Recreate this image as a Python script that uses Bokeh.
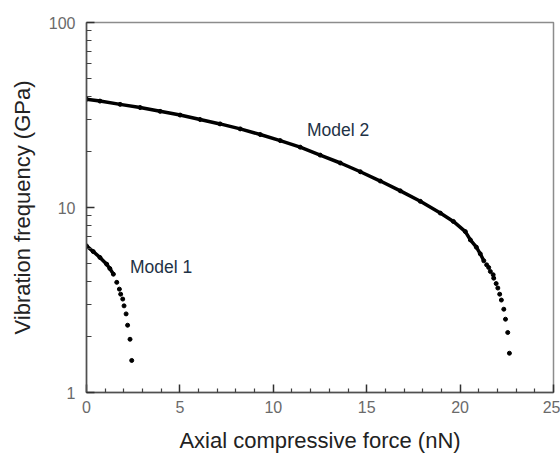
from bokeh.plotting import figure
from bokeh.models import FixedTicker, Label, Range1d
from bokeh.embed import file_html
from bokeh.resources import INLINE

# ---- data ----
model1_force = [0.00, 0.36, 0.72, 1.08, 1.25, 1.44, 1.62, 1.76, 1.83, 1.94, 2.01, 2.12, 2.20, 2.33, 2.42]
model1_freq = [6.20, 5.78, 5.37, 4.94, 4.68, 4.36, 3.94, 3.62, 3.40, 3.20, 2.94, 2.66, 2.31, 1.94, 1.49]

model2_force = [0.00, 0.72, 1.80, 2.87, 3.94, 5.01, 6.08, 7.15, 8.23, 9.30, 10.37, 11.44,
                12.51, 13.59, 14.66, 15.73, 16.80, 17.87, 18.94, 19.64, 20.28, 20.55, 20.87,
                21.08, 21.27, 21.42, 21.53, 21.62, 21.77, 21.80, 21.93, 22.02, 22.12, 22.21,
                22.34, 22.43, 22.55, 22.64]
model2_freq = [38.5, 37.6, 36.1, 34.7, 33.1, 31.6, 29.9, 28.3, 26.6, 24.8, 23.0, 21.2,
               19.2, 17.4, 15.6, 13.9, 12.3, 10.8, 9.33, 8.41, 7.41, 6.68, 6.10,
               5.62, 5.15, 4.90, 4.74, 4.51, 4.33, 4.15, 3.88, 3.67, 3.40, 3.16,
               2.82, 2.49, 2.11, 1.63]

# number of leading points where the dots merge into a continuous curve
model1_dense = 6
model2_dense = 25

x_major = [0, 5, 10, 15, 20, 25]
x_minor = [1, 2, 3, 4, 6, 7, 8, 9, 11, 12, 13, 14, 16, 17, 18, 19, 21, 22, 23, 24]
y_major = [1, 10, 100]
y_minor = [2, 3, 4, 5, 6, 7, 8, 9, 20, 30, 40, 50, 60, 70, 80, 90]

FONT = "Liberation Sans"

p = figure(width=560, height=455, y_axis_type="log",
           x_range=Range1d(0, 25), y_range=Range1d(1, 100),
           output_backend="svg", toolbar_location=None,
           min_border_left=86, min_border_right=7, min_border_top=22, min_border_bottom=63)

p.xgrid.visible = False
p.ygrid.visible = False
p.background_fill_color = "white"
p.border_fill_color = "white"
p.outline_line_color = "#8c8c8c"
p.outline_line_width = 1.5

p.xaxis.ticker = FixedTicker(ticks=x_major, minor_ticks=x_minor)
p.yaxis.ticker = FixedTicker(ticks=y_major, minor_ticks=y_minor)

for ax in (p.xaxis[0], p.yaxis[0]):
    ax.axis_line_color = "#505050"
    ax.axis_line_width = 1.5
    ax.major_tick_line_color = "#303030"
    ax.major_tick_line_width = 1.5
    ax.minor_tick_line_color = "#404040"
    ax.minor_tick_line_width = 1.2
    ax.major_tick_in = 8
    ax.major_tick_out = 0
    ax.minor_tick_in = 5
    ax.minor_tick_out = 0
    ax.major_label_text_font = FONT
    ax.major_label_text_font_size = "16px"
    ax.major_label_text_color = "#6a6a6a"
    ax.axis_label_text_font = FONT
    ax.axis_label_text_font_size = "22px"
    ax.axis_label_text_font_style = "normal"
    ax.axis_label_text_color = "#222222"

p.xaxis.minor_tick_in = 4
p.xaxis.major_label_standoff = 8
p.yaxis.major_label_standoff = 11
p.xaxis.axis_label_standoff = 12
p.yaxis.axis_label_standoff = 11
p.xaxis.axis_label = "Axial compressive force (nN)"
p.yaxis.axis_label = "Vibration frequency (GPa)"
p.yaxis.major_label_overrides = {1: "1", 10: "10", 100: "100"}

# dense parts drawn as thick curves, all points as dots
p.line(model1_force[:model1_dense], model1_freq[:model1_dense], line_color="black", line_width=3.5)
p.line(model2_force[:model2_dense], model2_freq[:model2_dense], line_color="black", line_width=3.5)
p.scatter(model1_force, model1_freq, size=4, marker="circle", fill_color="black", line_color="black")
p.scatter(model2_force, model2_freq, size=4, marker="circle", fill_color="black", line_color="black")

label_color = "#1e3246"
p.add_layout(Label(x=2.33, y=4.78, text="Model 1", text_font=FONT, text_font_size="17.5px",
                   text_color=label_color, text_baseline="middle", text_align="left"))
p.add_layout(Label(x=11.8, y=26.2, text="Model 2", text_font=FONT, text_font_size="17.5px",
                   text_color=label_color, text_baseline="middle", text_align="left"))

open("out.html", "w").write(file_html(p, INLINE))
